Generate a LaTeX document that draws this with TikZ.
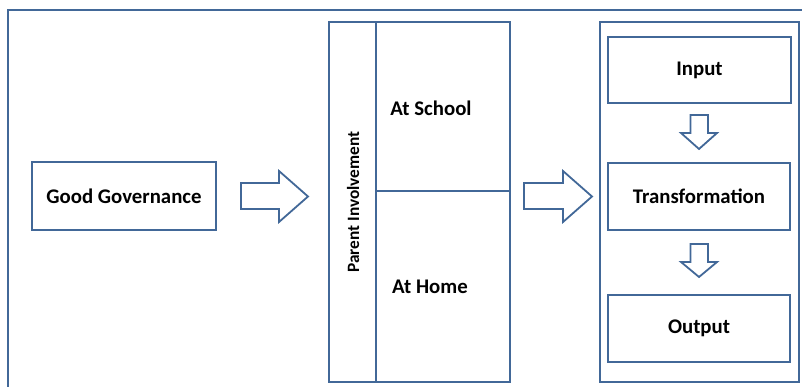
\documentclass[tikz,border=0pt]{standalone}
\usepackage{fontspec}
\setmainfont{Carlito}
\definecolor{frameblue}{RGB}{66,104,152}
\begin{document}
\begin{tikzpicture}[x=1pt,y=-1pt,
  line width=1.8pt,
  box/.style={draw=frameblue, line width=1.8pt, inner sep=0pt},
  lbl/.style={font=\bfseries\fontsize{20.8}{24}\selectfont, text=black},
  sidelbl/.style={font=\bfseries\fontsize{17.3}{20}\selectfont, text=black},
  blockarrow/.style={draw=frameblue, line width=1.8pt, fill=white, line join=miter}]
\useasboundingbox (0,0) rectangle (802,387);
% outer frame (only top and left visible)
\coordinate (fbl) at (8,387);
\coordinate (ftl) at (8,10);
\coordinate (ftr) at (802,10);
\draw[frameblue, line width=2.4pt] (fbl) -- (ftl) -- (ftr);
% Good Governance
\node[box, minimum width=184, minimum height=68, lbl] (gg) at (124,196) {Good Governance};
% middle box
\node[box, minimum width=181, minimum height=360] (mid) at (419.5,202) {};
\coordinate (vtop) at (376,22);
\coordinate (vbot) at (376,382);
\draw[frameblue] (vtop) -- (vbot);
\coordinate (hl) at (376,191);
\coordinate (hr) at (510,191);
\draw[frameblue] (hl) -- (hr);
\node[sidelbl, rotate=90] (pi) at (353,202) {Parent Involvement};
\node[lbl] (school) at (431,108) {At School};
\node[lbl] (home) at (430,287) {At Home};
% right box
\node[box, minimum width=199, minimum height=360] (right) at (699.5,202) {};
\node[box, minimum width=183, minimum height=66, lbl] (in) at (699.5,70) {Input};
\node[box, minimum width=182, minimum height=67, lbl] (tr) at (699,196.5) {Transformation};
\node[box, minimum width=182, minimum height=67, lbl] (out) at (699,328.5) {Output};
% block arrows right
\draw[blockarrow] (241,183) -- (279,183) -- (279,171) -- (308,196.5) -- (279,222) -- (279,209) -- (241,209) -- cycle;
\draw[blockarrow] (524,183) -- (563,183) -- (563,171) -- (592,196.5) -- (563,222) -- (563,209) -- (524,209) -- cycle;
% block arrows down
\draw[blockarrow] (690.5,115) -- (708,115) -- (708,133) -- (717,133) -- (699,149) -- (681,133) -- (690.5,133) -- cycle;
\draw[blockarrow] (690.5,244) -- (708,244) -- (708,262) -- (717,262) -- (699,277) -- (681,262) -- (690.5,262) -- cycle;
\end{tikzpicture}
\end{document}
